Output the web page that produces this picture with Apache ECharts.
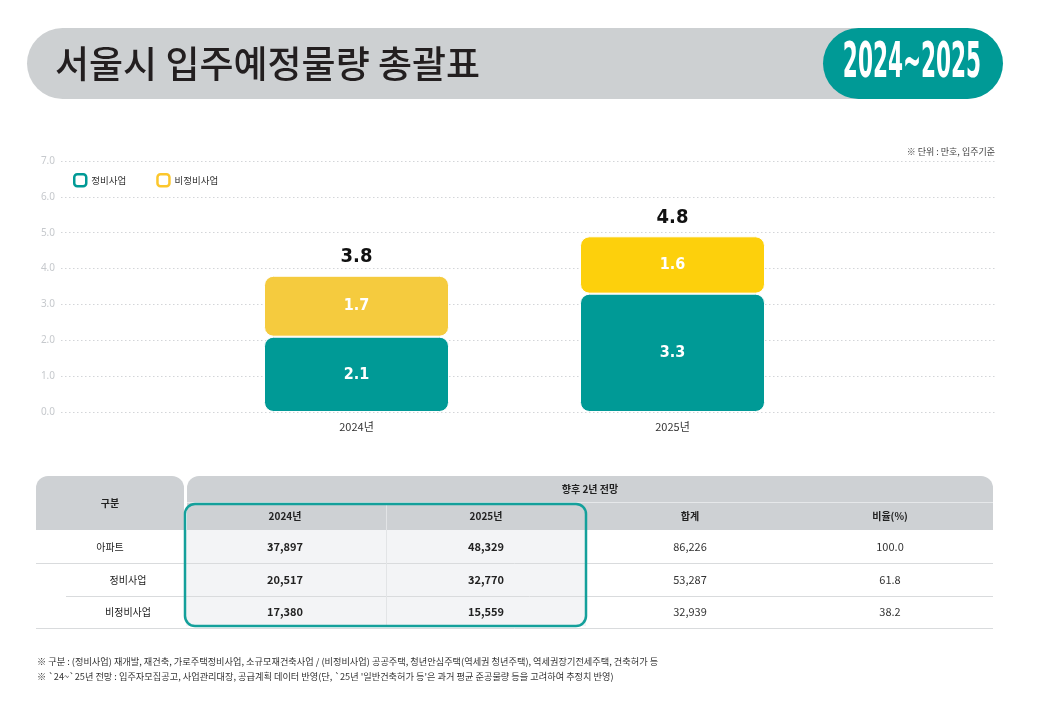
<!DOCTYPE html>
<html><head><meta charset="utf-8">
<script src="https://cdn.jsdelivr.net/npm/echarts@6/dist/echarts.min.js"></script>
<style>html,body{margin:0;padding:0;background:#fff}#c{width:1045px;height:717px}</style>
</head><body><div id="c"></div>
<script>
// ---- data ----
const categories = ['2024년', '2025년'];
const maintenance = [2.1, 3.3];        // 정비사업
const nonMaintenance = [1.7, 1.6];     // 비정비사업
const totals = [3.8, 4.8];
const yTicks = [0, 1, 2, 3, 4, 5, 6, 7];

const tableRows = ['아파트', '정비사업', '비정비사업'];
const table2024 = [37897, 20517, 17380];
const table2025 = [48329, 32770, 15559];
const tableSum = [86226, 53287, 32939];
const tableRatio = [100.0, 61.8, 38.2];
const tableHeads = ['2024년', '2025년', '합계', '비율(%)'];

const TEAL = '#009A96';
const YEL1 = '#F5CB3E';
const YEL2 = '#FDD00C';
const KR = "'Noto Sans CJK KR','Noto Sans',sans-serif";
const NARROW = "'DejaVu Sans Condensed','Liberation Sans',sans-serif";

const fmt = n => n.toLocaleString('en-US');

// ---- graphics (banner, table, notes) ----
const g = [];
g.push({type:'rect', shape:{x:27,y:28,width:975,height:71,r:35.5}, style:{fill:'#CDD0D2'}});
g.push({type:'rect', shape:{x:823,y:28,width:180,height:71,r:35.5}, style:{fill:TEAL}});
g.push({type:'text', x:55, y:64, style:{text:'서울시 입주예정물량 총괄표', font:"500 37px "+KR, fill:'#231F20', verticalAlign:'middle'}});
g.push({type:'text', x:912, y:64, scaleX:0.48, style:{text:'2024~2025', font:"bold 50px "+NARROW, fill:'#fff', align:'center', verticalAlign:'middle'}});
g.push({type:'text', x:995, y:152, style:{text:'※ 단위 : 만호, 입주기준', font:"9px "+KR, fill:'#444', align:'right', verticalAlign:'middle'}});

const HG = '#CED1D4';
g.push({type:'rect', shape:{x:36,y:476,width:148,height:54,r:[12,12,0,0]}, style:{fill:HG}});
g.push({type:'rect', shape:{x:187,y:476,width:806,height:54,r:[12,12,0,0]}, style:{fill:HG}});
g.push({type:'line', shape:{x1:187,y1:502.5,x2:993,y2:502.5}, style:{stroke:'#E6E8EA',lineWidth:1}});
g.push({type:'text', x:110, y:503, style:{text:'구분', font:"bold 10px "+KR, fill:'#222', align:'center', verticalAlign:'middle'}});
g.push({type:'text', x:590, y:489, style:{text:'향후 2년 전망', font:"bold 10px "+KR, fill:'#222', align:'center', verticalAlign:'middle'}});
const colX = [285, 486, 690, 890];
tableHeads.forEach((h,i)=>g.push({type:'text', x:colX[i], y:516.5, style:{text:h, font:"bold 10px "+KR, fill:'#222', align:'center', verticalAlign:'middle'}}));
g.push({type:'rect', shape:{x:186,y:530,width:400,height:96}, style:{fill:'#F3F4F6'}});
g.push({type:'line', shape:{x1:36,y1:563.5,x2:993,y2:563.5}, style:{stroke:'#D9DBDD',lineWidth:1}});
g.push({type:'line', shape:{x1:66,y1:596.5,x2:993,y2:596.5}, style:{stroke:'#D9DBDD',lineWidth:1}});
g.push({type:'line', shape:{x1:36,y1:628.5,x2:993,y2:628.5}, style:{stroke:'#D9DBDD',lineWidth:1}});
g.push({type:'line', shape:{x1:386.5,y1:503,x2:386.5,y2:626}, style:{stroke:'#E2E4E6',lineWidth:1}});
const rowY = [547, 580, 612];
const rowLabelX = [110, 128, 128];
tableRows.forEach((r,i)=>{
  g.push({type:'text', x:rowLabelX[i], y:rowY[i], style:{text:r, font:"10px "+KR, fill:'#222', align:'center', verticalAlign:'middle'}});
  g.push({type:'text', x:colX[0], y:rowY[i], style:{text:fmt(table2024[i]), font:"bold 11px "+KR, fill:'#222', align:'center', verticalAlign:'middle'}});
  g.push({type:'text', x:colX[1], y:rowY[i], style:{text:fmt(table2025[i]), font:"bold 11px "+KR, fill:'#222', align:'center', verticalAlign:'middle'}});
  g.push({type:'text', x:colX[2], y:rowY[i], style:{text:fmt(tableSum[i]), font:"11px "+KR, fill:'#333', align:'center', verticalAlign:'middle'}});
  g.push({type:'text', x:colX[3], y:rowY[i], style:{text:tableRatio[i].toFixed(1), font:"11px "+KR, fill:'#333', align:'center', verticalAlign:'middle'}});
});
g.push({type:'rect', shape:{x:185,y:504,width:401,height:122,r:10}, style:{fill:'none', stroke:'#14A09B', lineWidth:2.5}});
g.push({type:'text', x:37, y:662, style:{text:'※ 구분 : (정비사업) 재개발, 재건축, 가로주택정비사업, 소규모재건축사업 / (비정비사업) 공공주택, 청년안심주택(역세권 청년주택), 역세권장기전세주택, 건축허가 등', font:"9.2px "+KR, fill:'#333', verticalAlign:'middle'}});
g.push({type:'text', x:37, y:677, style:{text:"※ `24~`25년 전망 : 입주자모집공고, 사업관리대장, 공급계획 데이터 반영(단, `25년 '일반건축허가 등'은 과거 평균 준공물량 등을 고려하여 추정치 반영)", font:"9.2px "+KR, fill:'#333', verticalAlign:'middle'}});

const chart = echarts.init(document.getElementById('c'), null, {renderer:'canvas'});
chart.setOption({
  animation:false,
  backgroundColor:'#fff',
  legend:{
    left:68, top:168, itemWidth:12, itemHeight:12, itemGap:30, icon:'roundRect',
    textStyle:{fontFamily:KR, fontSize:9.5, color:'#333'},
    data:[
      {name:'정비사업', itemStyle:{color:'#fff', borderColor:TEAL, borderWidth:2.5}},
      {name:'비정비사업', itemStyle:{color:'#fff', borderColor:'#FCC72C', borderWidth:2.5}}
    ]
  },
  grid:[
    {left:61, right:50, top:161, height:251},
    {left:198.5, right:214.5, top:161, height:251}
  ],
  xAxis:[
    {gridIndex:0, type:'value', min:0, max:1, show:false},
    {gridIndex:1, type:'category', data:categories, axisLine:{show:false}, axisTick:{show:false},
     axisLabel:{color:'#333', fontFamily:KR, fontSize:11, margin:9}}
  ],
  yAxis:[
    {gridIndex:0, type:'value', min:yTicks[0], max:yTicks[yTicks.length-1], interval:1,
     axisLine:{show:false}, axisTick:{show:false},
     axisLabel:{formatter:v=>v.toFixed(1), color:'#C6C9CD', fontFamily:"'Noto Sans',sans-serif", fontSize:10, margin:6},
     splitLine:{lineStyle:{type:[1.5,2.5], color:'#D3D5D8', width:1}}},
    {gridIndex:1, type:'value', min:yTicks[0], max:yTicks[yTicks.length-1], interval:1, show:false, splitLine:{show:false}}
  ],
  series:[
    {name:'정비사업', type:'bar', xAxisIndex:1, yAxisIndex:1, stack:'s', barWidth:185,
     data:maintenance,
     itemStyle:{color:TEAL, borderRadius:9, borderColor:'#fff', borderWidth:1},
     label:{show:true, position:'inside', color:'#fff', fontFamily:NARROW, fontWeight:'bold', fontSize:16, formatter:p=>p.value.toFixed(1)}},
    {name:'비정비사업', type:'bar', xAxisIndex:1, yAxisIndex:1, stack:'s', barWidth:185,
     data:nonMaintenance.map((v,i)=>({value:v, itemStyle:{color:i===0?YEL1:YEL2}})),
     itemStyle:{color:'#FCC72C', borderRadius:9, borderColor:'#fff', borderWidth:1},
     label:{show:true, position:'inside', color:'#fff', fontFamily:NARROW, fontWeight:'bold', fontSize:16, formatter:p=>p.value.toFixed(1)}},
    {name:'합계', type:'bar', xAxisIndex:1, yAxisIndex:1, stack:'s', barWidth:185,
     data:totals.map(()=>0), itemStyle:{color:'transparent'}, silent:true,
     label:{show:true, position:'top', distance:9, color:'#111', fontFamily:NARROW, fontWeight:'bold', fontSize:20, formatter:p=>totals[p.dataIndex].toFixed(1)}}
  ],
  graphic:g
});
</script></body></html>
